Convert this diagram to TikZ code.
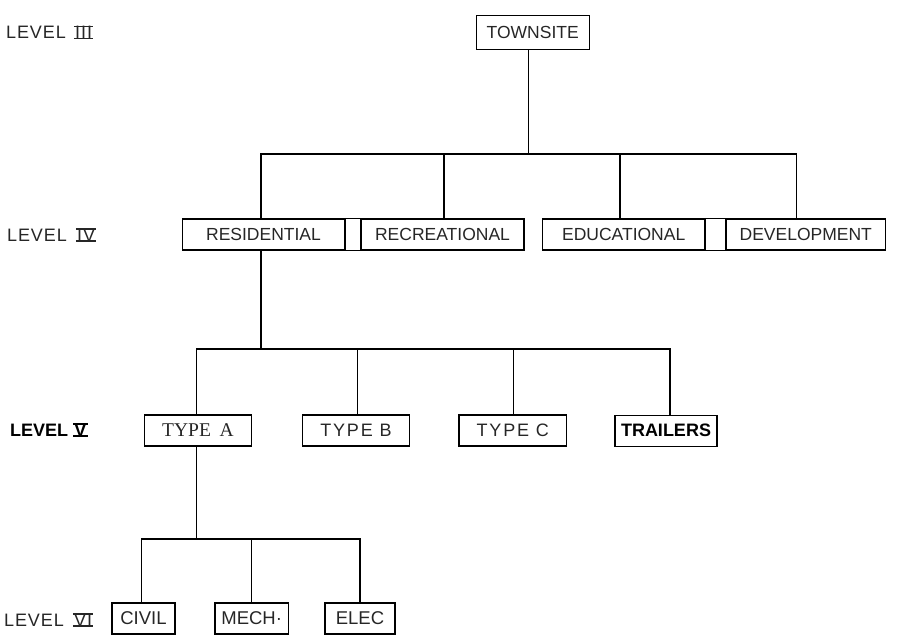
\documentclass[tikz,border=0pt]{standalone}
\usepackage{fontspec}
\setmainfont{Liberation Sans}
\newfontfamily\serifface{Liberation Serif}
\newcommand\rnum[1]{\setbox0\hbox{\kern0.07em#1\kern0.07em}\rlap{\rule[-0.03em]{\wd0}{0.08em}}\rlap{\rule[0.66em]{\wd0}{0.08em}}\box0}
\begin{document}
\begin{tikzpicture}[x=1pt,y=-1pt,
  box/.style={draw, line width=1.4pt, inner sep=0pt, minimum height=31pt,
    font=\fontsize{17.5}{17.5}\selectfont, text=black!85},
  boxline/.style={line width=1.4pt},
  lvl/.style={anchor=west, inner sep=0pt, font=\fontsize{18}{18}\selectfont\addfontfeature{LetterSpace=5}, text=black!85},
  conn/.style={line width=1.15pt}]
\useasboundingbox (0,0) rectangle (900,636);
% labels
\node[lvl] (l3) at (6,32.5) {LEVEL\hspace{0.45em}\rnum{III}};
\node[lvl] (l4) at (7,235) {LEVEL\hspace{0.5em}\rnum{IV}};
\node[lvl, font=\fontsize{18}{18}\selectfont\bfseries, text=black] (l5) at (10,430) {LEVEL \rnum{V}};
\node[lvl] (l6) at (4,620) {LEVEL\hspace{0.5em}\rnum{VI}};
% level III
\node[box, minimum width=113pt, minimum height=33.6pt] (town) at (532.7,32.5) {TOWNSITE};
% level IV
\node[box, minimum width=161.6pt] (res) at (263.5,234.6) {RESIDENTIAL};
\node[box, minimum width=163pt] (rec) at (442.5,234.6) {RECREATIONAL};
\node[box, minimum width=162.7pt] (edu) at (623.7,234.6) {EDUCATIONAL};
\node[box, minimum width=159.7pt] (dev) at (805.8,234.6) {DEVELOPMENT};
\draw[boxline] (res.north east) rectangle (rec.south west);
\draw[boxline] (edu.north east) rectangle (dev.south west);
% level V
\node[box, minimum width=107.4pt, font=\fontsize{19.5}{19.5}\serifface] (ta) at (198,430.4) {TYPE\hspace{0.45em}A};
\node[box, minimum width=106.6pt, font=\fontsize{18}{18}\selectfont\addfontfeature{LetterSpace=10}] (tb) at (356,430.5) {TYPE B};
\node[box, minimum width=107.7pt, font=\fontsize{18}{18}\selectfont\addfontfeature{LetterSpace=10}] (tc) at (512.8,430.5) {TYPE C};
\node[box, minimum width=102pt, font=\fontsize{18}{18}\selectfont\bfseries, text=black] (tr) at (666,430.8) {TRAILERS};
% level VI
\node[box, minimum width=63pt, font=\fontsize{18.5}{18.5}\selectfont] (civ) at (143.5,618.3) {CIVIL};
\node[box, minimum width=73.3pt, font=\fontsize{18.5}{18.5}\selectfont] (mech) at (251.7,618.3) {MECH\textperiodcentered};
\node[box, minimum width=70pt, font=\fontsize{18.5}{18.5}\selectfont] (elec) at (360,618.3) {ELEC};
% buses
\coordinate (b3) at (0,154);
\coordinate (b5) at (0,349);
\coordinate (b6) at (0,539);
% townsite connectors
\draw[conn] ([xshift=-4pt]town.south) -- ([xshift=-4pt]town.south |- b3);
\draw[conn] ([xshift=-2.5pt]res.north) -- ([xshift=-2.5pt]res.north |- b3) -- ([xshift=-9pt]dev.north |- b3) -- ([xshift=-9pt]dev.north);
\draw[conn] ([xshift=1.5pt]rec.north) -- ([xshift=1.5pt]rec.north |- b3);
\draw[conn] ([xshift=-3.7pt]edu.north) -- ([xshift=-3.7pt]edu.north |- b3);
% residential connectors
\draw[line width=1.7pt] ([xshift=-2.5pt]res.south) -- ([xshift=-2.5pt]res.south |- b5);
\draw[conn] ([xshift=-1.3pt]ta.north) -- ([xshift=-1.3pt]ta.north |- b5) -- ([xshift=4pt]tr.north |- b5) -- ([xshift=4pt]tr.north);
\draw[conn] ([xshift=1.3pt]tb.north) -- ([xshift=1.3pt]tb.north |- b5);
\draw[conn] ([xshift=0.5pt]tc.north) -- ([xshift=0.5pt]tc.north |- b5);
% type A connectors
\draw[conn] ([xshift=-1.5pt]ta.south) -- ([xshift=-1.5pt]ta.south |- b6);
\draw[conn] ([xshift=-1.8pt]civ.north) -- ([xshift=-1.8pt]civ.north |- b6) -- (elec.north |- b6) -- (elec.north);
\draw[conn] (mech.north) -- (mech.north |- b6);
\end{tikzpicture}
\end{document}
